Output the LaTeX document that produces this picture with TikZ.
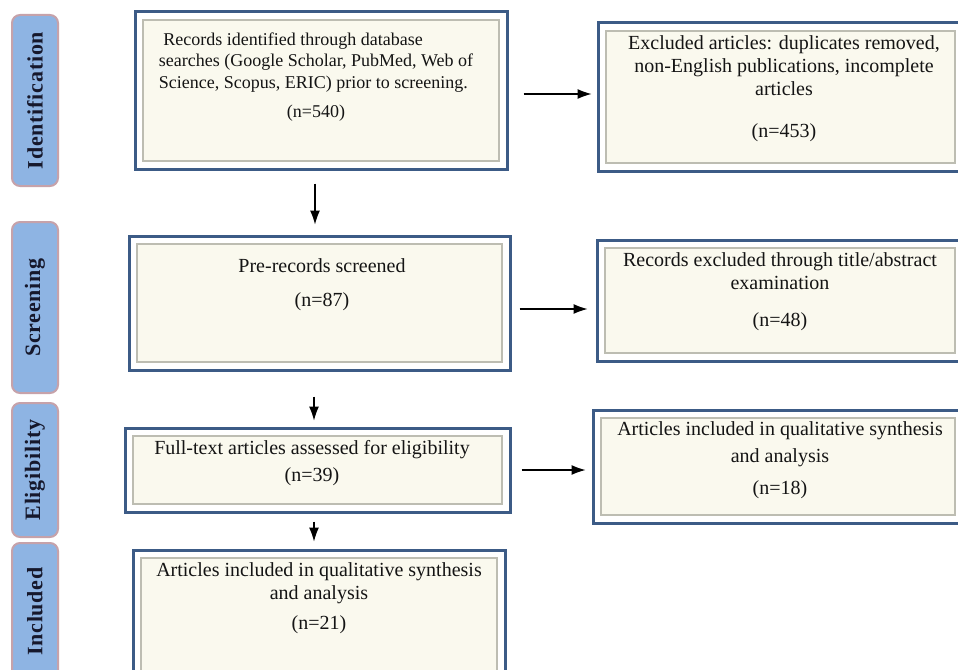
\documentclass[tikz,border=0pt]{standalone}
\usepackage{fontspec}
\setmainfont{Liberation Serif}
\newfontfamily\phasefont[LetterSpace=3.5]{Liberation Serif}
\usetikzlibrary{arrows.meta}
\definecolor{tabblue}{HTML}{8EB4E3}
\definecolor{tabrim}{HTML}{C6A2AA}
\definecolor{tabink}{HTML}{16182C}
\definecolor{boxrim}{HTML}{3C5B86}
\definecolor{boxcream}{HTML}{FAF9EE}
\definecolor{bevelgray}{HTML}{BDBDB2}
\begin{document}
\begin{tikzpicture}[x=1pt, y=-1pt,
        phasetab/.style={draw=tabrim, line width=2pt, fill=tabblue, rounded corners=8pt,
          minimum height=46pt, inner sep=0pt, rotate=90, text=tabink,
          font=\phasefont\bfseries\fontsize{22}{24}\selectfont},
        recbox/.style={draw=boxrim, line width=3pt, fill=white, inner sep=0pt,
          path picture={\draw[bevelgray, line width=1.5pt, fill=boxcream]
            ([xshift=8pt,yshift=-8pt]path picture bounding box.north west) rectangle
            ([xshift=-8pt,yshift=8pt]path picture bounding box.south east);}},
        rectext/.style={font=\fontsize{20}{23}\selectfont, align=center, inner sep=0pt, text=black!92},
        flowarr/.style={-{Latex[length=14pt,width=10pt]}, line width=1.1pt}
      ]
      \useasboundingbox (0,0) rectangle (958,669);
      \clip (0,0) rectangle (958,669);
      % phase tabs
      \foreach \nm/\ytop/\ybot/\lbl in {%
        id/15/186/Identification,
        scr/222/393/Screening,
        elig/403/537/Eligibility,
        inc/543/680/Included%
      }{
        \node[phasetab, minimum width={\ybot-\ytop}] (tab\nm) at (35,{(\ytop+\ybot)/2}) {\lbl};
      }
      % record boxes
      \node[recbox, minimum width=372pt, minimum height=157pt] (recid) at (321,90.5) {};
      \node[recbox, minimum width=365pt, minimum height=148pt] (excdup) at (780.5,97) {};
      \node[recbox, minimum width=381pt, minimum height=134pt] (prescr) at (319.5,303) {};
      \node[recbox, minimum width=366pt, minimum height=121pt] (exctitle) at (780,300.5) {};
      \node[recbox, minimum width=385pt, minimum height=84pt] (fulltext) at (317.5,470) {};
      \node[recbox, minimum width=370pt, minimum height=113pt] (inclside) at (778,466.5) {};
      \node[recbox, minimum width=372pt, minimum height=140pt] (incl) at (319,620) {};
      % texts
      \node[rectext, font=\fontsize{18}{21.5}\selectfont] (recidtxt) at (316,77) {%
        \begin{tabular}{@{}l@{}}
          \ Records identified through database\\
          searches (Google Scholar, PubMed, Web of\\
          Science, Scopus, ERIC) prior to screening.\\[8pt]
          \multicolumn{1}{@{}c@{}}{(n=540)}
        \end{tabular}};
      \node[rectext] (excduptxt) at (784,89)
        {Excluded articles: duplicates removed,\\ non-English publications, incomplete\\ articles\\[19pt] (n=453)};
      \node[rectext] (prescrtxt) at (322,285) {Pre-records screened\\[11pt] (n=87)};
      \node[rectext] (exctitletxt) at (780,292)
        {Records excluded through title/abstract\\ examination\\[14pt] (n=48)};
      \node[rectext] (fulltexttxt) at (312,463.5) {Full-text articles assessed for eligibility\\[4pt] (n=39)};
      \node[rectext] (inclsidetxt) at (780,460.5)
        {Articles included in qualitative synthesis\\[4pt] and analysis\\[9pt] (n=18)};
      \node[rectext] (incltxt) at (319,598)
        {Articles included in qualitative synthesis\\ and analysis\\[7pt] (n=21)};
      % arrows
      \draw[flowarr, shorten <=13pt, shorten >=10pt]
        ([xshift=-6pt]recid.south) -- ([xshift=-6pt]recid.south |- prescr.north);
      \draw[flowarr, shorten <=25pt, shorten >=6pt]
        ([xshift=-5.5pt]prescr.south) -- ([xshift=-5.5pt]prescr.south |- fulltext.north);
      \draw[flowarr, shorten <=8pt, shorten >=7pt]
        ([xshift=-3.5pt]fulltext.south) -- ([xshift=-3.5pt]fulltext.south |- incl.north);
      \draw[flowarr, shorten <=15pt, shorten >=5pt]
        ([yshift=-3.5pt]recid.east) -- ([yshift=-3.5pt]recid.east -| excdup.west);
      \draw[flowarr, shorten <=8pt, shorten >=8pt]
        ([yshift=-6pt]prescr.east) -- ([yshift=-6pt]prescr.east -| exctitle.west);
      \draw[flowarr, shorten <=10pt, shorten >=6pt]
        (fulltext.east) -- (fulltext.east -| inclside.west);
    \end{tikzpicture}
\end{document}
